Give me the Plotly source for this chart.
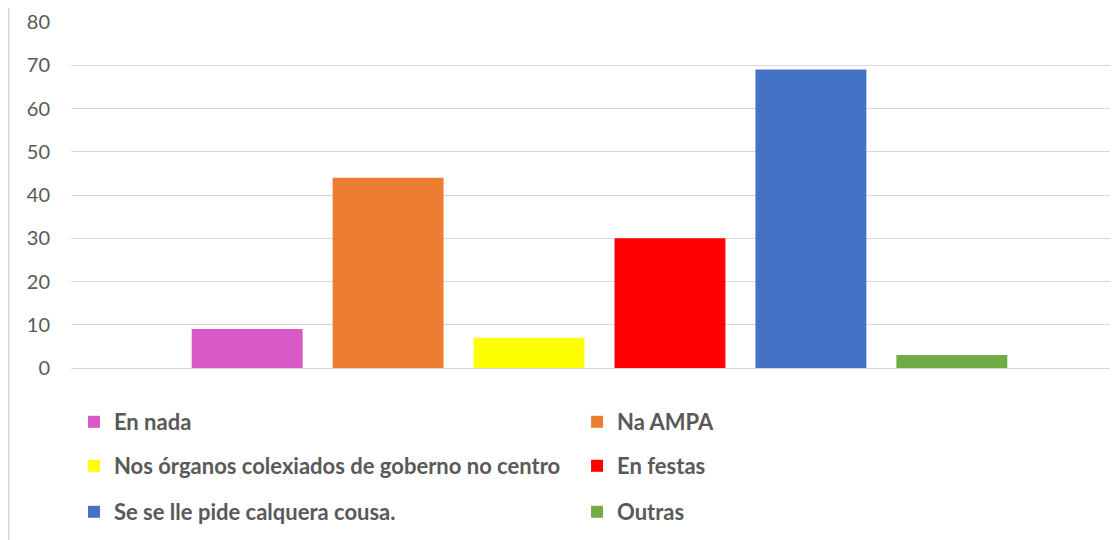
import plotly.graph_objects as go

# datos da enquisa
categorias = ["En nada", "Na AMPA", "Nos órganos colexiados de goberno no centro",
              "En festas", "Se se lle pide calquera cousa.", "Outras"]
valores = [9, 44, 7, 30, 69, 3]
cores = ["#D858C6", "#ED7D31", "#FFFF00", "#FF0000", "#4472C4", "#70AD47"]
y_ticks = [0, 10, 20, 30, 40, 50, 60, 70, 80]

W, H = 1118, 540
TEXT = "#595959"
GRID = "#D9D9D9"
L, T, B = 63, 14, 180
plot_w = W - L
plot_h = H - T - B

fig = go.Figure()

# unha lenda por elemento, en dúas columnas
legend_ids = ["legend", "legend2", "legend3", "legend4", "legend5", "legend6"]
for nome, v, c, lg in zip(categorias, valores, cores, legend_ids):
    fig.add_trace(go.Bar(
        x=[0], y=[v], name=nome, marker=dict(color=c, line=dict(width=0)),
        legend=lg, hoverinfo="name+y",
    ))

legend_common = dict(
    orientation="h", xref="container", xanchor="left",
    yref="container", yanchor="middle",
    font=dict(family="Lato", size=22, color=TEXT, weight="bold"),
    bgcolor="rgba(0,0,0,0)",
)
col_x = [0.059, 0.509]
row_y = [414, 458, 504]
legends = {}
for i, lg in enumerate(legend_ids):
    legends[lg] = dict(legend_common, x=col_x[i % 2], y=(H - row_y[i // 2]) / H)

fig.update_layout(
    width=W, height=H,
    margin=dict(l=L, r=0, t=T, b=B, autoexpand=False),
    paper_bgcolor="white", plot_bgcolor="white",
    barmode="group", bargap=0.2, bargroupgap=0.213,
    showlegend=True,
    **legends,
    xaxis=dict(range=[-0.5, -0.5 + plot_w / 1057], showticklabels=False, showgrid=False,
               zeroline=False, showline=False, ticks="", automargin=False),
    yaxis=dict(range=[0, 80], tickvals=y_ticks, showgrid=True, gridcolor=GRID,
               gridwidth=1, zeroline=True, zerolinecolor=GRID, zerolinewidth=1,
               showline=False, ticks="", ticklabelstandoff=20, automargin=False,
               tickfont=dict(family="Lato", size=20, color=TEXT)),
    shapes=[dict(type="line", xref="paper", yref="paper",
                 x0=(0.75 - L) / plot_w, x1=(0.75 - L) / plot_w,
                 y0=-(B + 10) / plot_h, y1=(plot_h + T + 10) / plot_h,
                 line=dict(color=GRID, width=1.5))],
)

fig.write_html("out.html")
